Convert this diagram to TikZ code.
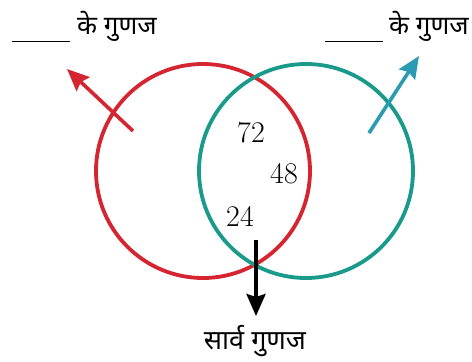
\documentclass[tikz,border=0pt]{standalone}
\usepackage{fontspec}
\newfontfamily\deva[Script=Devanagari]{Noto Sans}
\usetikzlibrary{arrows.meta}
\definecolor{cred}{HTML}{D42530}
\definecolor{cteal}{HTML}{1A9A8B}
\definecolor{cblue}{HTML}{2A9BB0}
\begin{document}
\begin{tikzpicture}[x=1pt,y=-1pt,
  circ/.style={line width=3.8pt},
  arr/.style={line width=3.6pt,-{Stealth[length=22pt,width=19pt,inset=3pt]}},
  num/.style={font=\fontsize{30}{34}\selectfont,inner sep=0pt},
  lab/.style={font=\deva\fontsize{26}{30}\selectfont,inner sep=0pt}]
\useasboundingbox (0,0) rectangle (472,362);
\draw[circ,cred] (203,171) circle (107);
\draw[circ,cteal] (306,171) circle (107);
\coordinate (rt) at (133,131);
\coordinate (rh) at (67,69);
\draw[arr,cred] (rt) -- (rh);
\coordinate (tt) at (369,133);
\coordinate (th) at (419,56);
\draw[arr,cblue] (tt) -- (th);
\coordinate (bt) at (256,240);
\coordinate (bh) at (256,316);
\draw[arr,black] (bt) -- (bh);
\node[num] (n72) at (251,133) {72};
\node[num] (n48) at (284,174) {48};
\node[num] (n24) at (240,216) {24};
\node[lab,anchor=west] (l1) at (77,26) {के गुणज};
\node[lab,anchor=west] (l2) at (389,26) {के गुणज};
\draw[line width=1pt] (12,41) -- (70,41);
\draw[line width=1pt] (325,41) -- (383,41);
\node[lab,font=\deva\fontsize{27}{30}\selectfont] (l3) at (255,341) {सार्व गुणज};
\end{tikzpicture}
\end{document}
